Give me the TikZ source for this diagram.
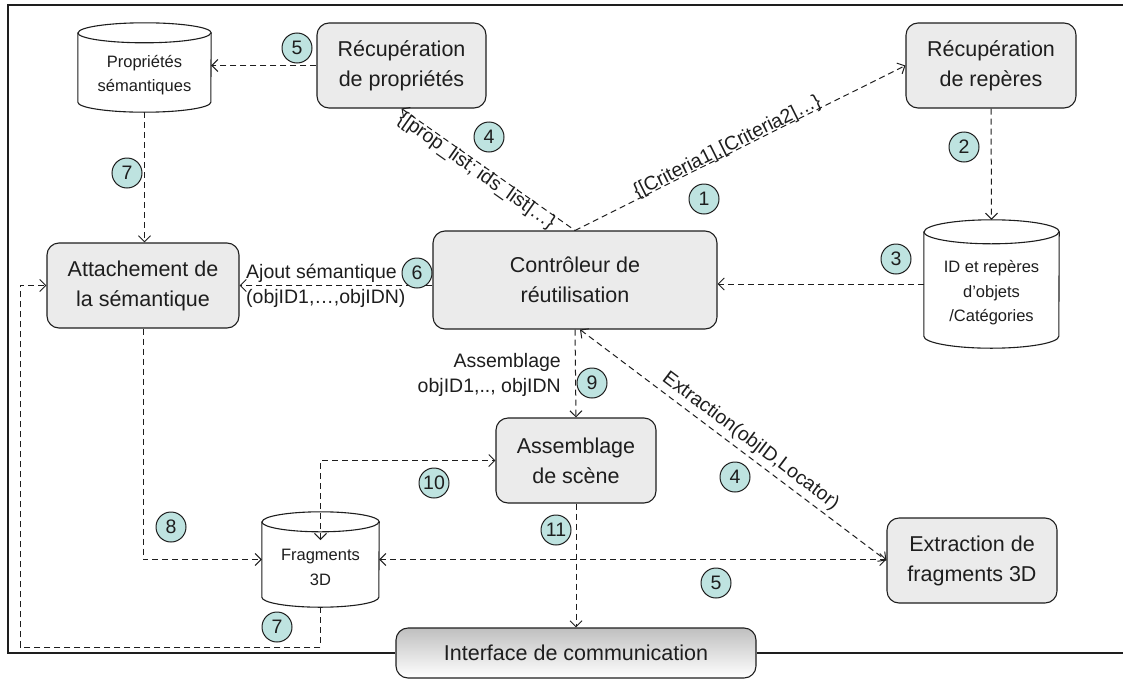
\documentclass[tikz,border=0pt]{standalone}
\usepackage{fontspec}
\setmainfont{Liberation Sans}
\usetikzlibrary{arrows.meta,calc}
\definecolor{boxgray}{RGB}{235,235,235}
\definecolor{numfill}{RGB}{190,227,224}
\definecolor{ink}{RGB}{30,30,30}
\begin{document}
\begin{tikzpicture}[x=1pt,y=-1pt,
  >={Straight Barb[length=6pt,width=12pt]},
  box/.style={draw=ink,line width=1.1pt,rounded corners=12pt,fill=boxgray,inner sep=0pt,align=center,text=ink,font=\fontsize{21.5}{30}\selectfont},
  cylnode/.style={inner sep=0pt,draw=none},
  cyltext/.style={inner sep=0pt,align=center,text=ink,font=\fontsize{16.5}{24.5}\selectfont},
  cylline/.style={draw=ink,line width=1.1pt},
  num/.style={circle,draw=ink,line width=1pt,fill=numfill,minimum size=30pt,inner sep=0pt,text=ink,font=\fontsize{19.5}{20}\selectfont},
  lbl/.style={inner sep=1pt,text=ink,font=\fontsize{19.5}{25}\selectfont},
  dl/.style={draw=ink,line width=1pt,dash pattern=on 6pt off 4pt},
  framestyle/.style={draw=ink,line width=1.4pt},
]
\useasboundingbox (0,0) rectangle (1123,680);

% ---------- cylinders ----------
\node[cylnode,minimum width=133pt,minimum height=89pt] (ps) at (144.5,67.5) {};
\draw[cylline,fill=white] ([yshift=-10pt]ps.north west) -- ([yshift=10pt]ps.south west)
  arc[start angle=180,end angle=360,x radius=66.5pt,y radius=10pt]
  -- ([yshift=-10pt]ps.north east)
  arc[start angle=0,end angle=180,x radius=66.5pt,y radius=10pt] -- cycle;
\draw[cylline] ([yshift=-10pt]ps.north west) arc[start angle=180,end angle=360,x radius=66.5pt,y radius=10pt];
\node[cyltext] (pst) at (144.5,75) {Propriétés\\sémantiques};

\node[cylnode,minimum width=135pt,minimum height=128pt] (idc) at (991.5,284) {};
\draw[cylline,fill=white] ([yshift=-12pt]idc.north west) -- ([yshift=12pt]idc.south west)
  arc[start angle=180,end angle=360,x radius=67.5pt,y radius=12pt]
  -- ([yshift=-12pt]idc.north east)
  arc[start angle=0,end angle=180,x radius=67.5pt,y radius=12pt] -- cycle;
\draw[cylline] ([yshift=-12pt]idc.north west) arc[start angle=180,end angle=360,x radius=67.5pt,y radius=12pt];
\node[cyltext] (idt) at (991.5,293) {ID et repères\\d’objets\\/Catégories};

\node[cylnode,minimum width=117pt,minimum height=95pt] (fr) at (320.5,559.5) {};
\draw[cylline,fill=white] ([yshift=-10pt]fr.north west) -- ([yshift=10pt]fr.south west)
  arc[start angle=180,end angle=360,x radius=58.5pt,y radius=10pt]
  -- ([yshift=-10pt]fr.north east)
  arc[start angle=0,end angle=180,x radius=58.5pt,y radius=10pt] -- cycle;
\draw[cylline] ([yshift=-10pt]fr.north west) arc[start angle=180,end angle=360,x radius=58.5pt,y radius=10pt];
\node[cyltext] (frt) at (320.5,567.5) {Fragments\\3D};

% ---------- boxes ----------
\node[box,minimum width=169pt,minimum height=85pt] (rp) at (401.5,65.5) {Récupération\\de propriétés};
\node[box,minimum width=170pt,minimum height=85pt] (rr) at (991,65.5) {Récupération\\de repères};
\node[box,minimum width=192pt,minimum height=85pt] (att) at (143,285.5) {Attachement de\\la sémantique};
\node[box,minimum width=284pt,minimum height=98pt] (ctrl) at (575,280) {Contrôleur de\\réutilisation};
\node[box,minimum width=160pt,minimum height=85pt] (asm) at (576,460.5) {Assemblage\\de scène};
\node[box,minimum width=170pt,minimum height=85pt] (ex) at (972,560.5) {Extraction de\\fragments 3D};
\node[box,top color=black!25,bottom color=white,minimum width=360pt,minimum height=50pt] (ifc) at (576,653) {Interface de communication};

% ---------- frame ----------
\draw[framestyle] (ifc.west) -- (8,653) -- (8,5) -- (1123,5);
\draw[framestyle] (ifc.east) -- (1123,653);

% ---------- connectors ----------
\draw[dl,->] (rp.west) -- (rp.west -| ps.east);
\draw[dl,->] (ps.south) -- (ps.south |- att.north);
\draw[dl,->] (ctrl.north) -- node[lbl,sloped,above=-4pt,pos=0.47] {\{[Criteria1],[Criteria2]…\}} (rr.west);
\draw[dl,<-] (rp.south) -- node[lbl,sloped,below=-2pt,pos=0.46] {\{[prop\_list; ids\_list]…\}} (ctrl.north);
\draw[dl,->] (rr.south) -- (idc.north);
\draw[dl,->] (idc.west) -- (idc.west -| ctrl.east);
\draw[dl,->] (att.east -| ctrl.west) -- (att.east);
\node[lbl,anchor=west,align=left] (l6) at (245,285.5) {Ajout sémantique\\(objID1,…,objIDN)};
\draw[dl,->] (ctrl.south) -- (asm.north);
\node[lbl,anchor=east,align=right] (l9) at (562,375) {Assemblage\\objID1,.., objIDN};
\coordinate (cs) at ([xshift=5pt]ctrl.south);
\draw[dl,<->] (cs) -- node[lbl,sloped,above=3pt,pos=0.53] {Extraction(objID,Locator)} (ex.west);
\coordinate (frin) at (320.5,540);
\draw[dl,<->] (frin) |- (asm.west);
\draw[dl,->] (att.south) |- (fr.west);
\draw[dl,<->] (fr.east) -- (fr.east -| ex.west);
\draw[dl,->] (asm.south) -- (ifc.north);
\coordinate (lb) at (20,647);
\draw[dl,->] (fr.south) |- (lb) |- (att.west);

% ---------- numbers ----------
\node[num] (n5a) at (297,48) {5};
\node[num] (n4a) at (489,137) {4};
\node[num] (n7a) at (127,173) {7};
\node[num] (n1) at (704,199) {1};
\node[num] (n2) at (964,147) {2};
\node[num] (n3) at (896,259) {3};
\node[num] (n6) at (417,273) {6};
\node[num] (n9) at (592,383) {9};
\node[num] (n10) at (434,483) {10};
\node[num] (n4b) at (735,477) {4};
\node[num] (n8) at (171,527) {8};
\node[num] (n11) at (556,530) {11};
\node[num] (n5b) at (716,583) {5};
\node[num] (n7b) at (277,627) {7};
\end{tikzpicture}
\end{document}
